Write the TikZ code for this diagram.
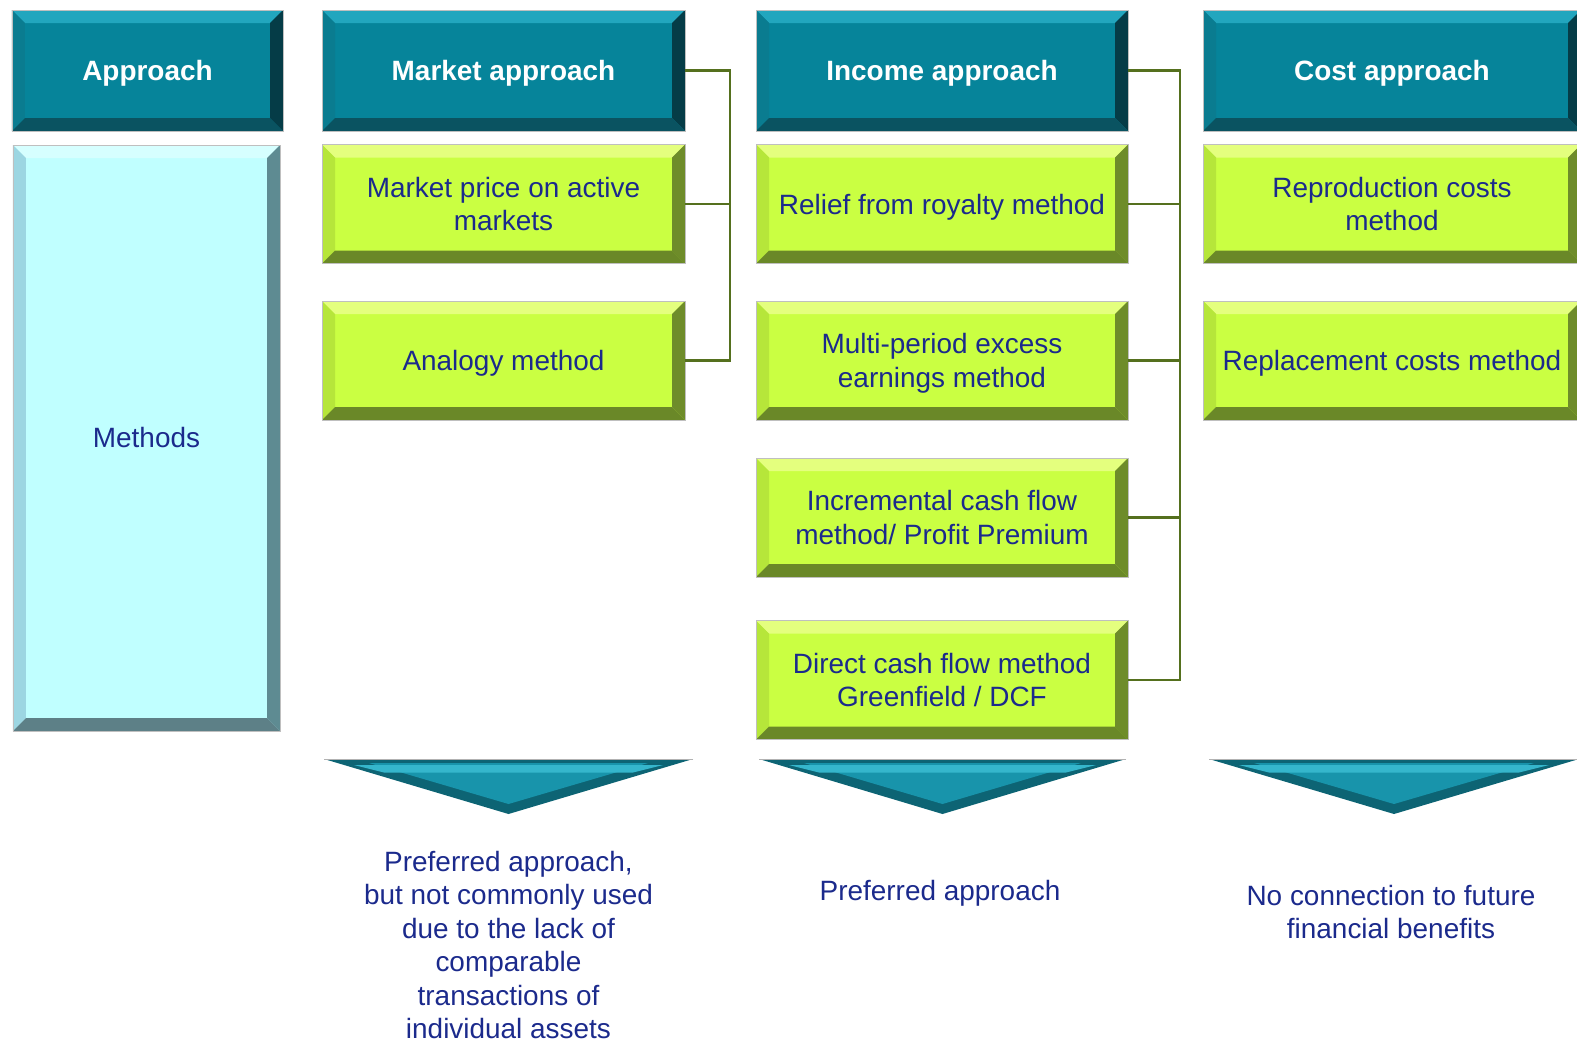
\documentclass[tikz,border=0pt]{standalone}
\usepackage{fontspec}
\setmainfont{Liberation Sans}

\definecolor{hdface}{HTML}{06849A}
\definecolor{hdtop}{HTML}{22A6BE}
\definecolor{hdleft}{HTML}{0A7C90}
\definecolor{hdright}{HTML}{053C47}
\definecolor{hdbot}{HTML}{0A5361}
\definecolor{grface}{HTML}{CAFF42}
\definecolor{grtop}{HTML}{E4FF7E}
\definecolor{grleft}{HTML}{B6E63A}
\definecolor{grright}{HTML}{6E8C2A}
\definecolor{grbot}{HTML}{6A8828}
\definecolor{bluface}{HTML}{C0FFFF}
\definecolor{blutop}{HTML}{D6FFFF}
\definecolor{bluleft}{HTML}{9CD6E2}
\definecolor{bluright}{HTML}{5E8B92}
\definecolor{blubot}{HTML}{5D8087}
\definecolor{navy}{HTML}{1B2A8C}
\definecolor{olive}{HTML}{55701E}
\definecolor{tridark}{HTML}{0D6474}
\definecolor{triface}{HTML}{1894AB}
\definecolor{trilight}{HTML}{35B6CC}

\def\bvl{0.26cm}
\newcommand{\bodyfont}{\fontsize{15.9}{19.1}\selectfont}

\tikzset{
  bevel/.style n args={5}{fill=#1, draw=gray!50, line width=0.4pt,
    path picture={
      \fill[#2] (path picture bounding box.north west) -- (path picture bounding box.north east)
        -- ([shift={(-\bvl,-\bvl)}]path picture bounding box.north east)
        -- ([shift={(\bvl,-\bvl)}]path picture bounding box.north west) -- cycle;
      \fill[#3] (path picture bounding box.north west) -- (path picture bounding box.south west)
        -- ([shift={(\bvl,\bvl)}]path picture bounding box.south west)
        -- ([shift={(\bvl,-\bvl)}]path picture bounding box.north west) -- cycle;
      \fill[#4] (path picture bounding box.north east) -- (path picture bounding box.south east)
        -- ([shift={(-\bvl,\bvl)}]path picture bounding box.south east)
        -- ([shift={(-\bvl,-\bvl)}]path picture bounding box.north east) -- cycle;
      \fill[#5] (path picture bounding box.south west) -- (path picture bounding box.south east)
        -- ([shift={(-\bvl,\bvl)}]path picture bounding box.south east)
        -- ([shift={(\bvl,\bvl)}]path picture bounding box.south west) -- cycle;
    }},
  header/.style={bevel={hdface}{hdtop}{hdleft}{hdright}{hdbot},
    minimum height=2.42cm, inner sep=0pt, text depth=0pt, text=white, font=\bodyfont\bfseries},
  method/.style={bevel={grface}{grtop}{grleft}{grright}{grbot},
    minimum height=2.38cm, inner sep=0pt, text depth=0pt, text=navy, align=center},
  link/.style={olive, line width=1.5pt},
  note/.style={text=navy, align=center},
  arrowtri/.style={fill=tridark}
}

\begin{document}
\begin{tikzpicture}[font=\bodyfont]

    \useasboundingbox (0,0) rectangle (31.54,-20.86);

    % left column
    \node[header, minimum width=5.42cm] (appr) at (2.95,-1.41) {Approach};
    \node[bevel={bluface}{blutop}{bluleft}{bluright}{blubot}, minimum width=5.34cm,
      minimum height=11.72cm, inner sep=0pt, text=navy] (meth) at (2.93,-8.76) {Methods};

    % market approach
    \node[header, minimum width=7.26cm] (mkt) at (10.07,-1.41) {Market approach};
    \node[method, minimum width=7.26cm] (mprice) at (10.07,-4.08) {Market price on active\\markets};
    \node[method, minimum width=7.26cm] (analog) at (10.07,-7.21) {Analogy method};

    % income approach
    \node[header, minimum width=7.44cm] (inc) at (18.84,-1.41) {Income approach};
    \node[method, minimum width=7.44cm] (relief) at (18.84,-4.08) {Relief from royalty method};
    \node[method, minimum width=7.44cm] (mpeem) at (18.84,-7.21) {Multi-period excess\\earnings method};
    \node[method, minimum width=7.44cm] (icf) at (18.84,-10.35) {Incremental cash flow\\method/ Profit Premium};
    \node[method, minimum width=7.44cm] (dcf) at (18.84,-13.6) {Direct cash flow method\\Greenfield / DCF};

    % cost approach
    \node[header, minimum width=7.56cm] (cost) at (27.84,-1.41) {Cost approach};
    \node[method, minimum width=7.56cm] (repro) at (27.84,-4.08) {Reproduction costs\\method};
    \node[method, minimum width=7.56cm] (repl) at (27.84,-7.21) {Replacement costs method};

    % brackets
    \coordinate (mktbus) at (14.6,-1.41);
    \coordinate (incbus) at (23.6,-1.41);

    \draw[link] (mkt.east) -| (mktbus) |- (analog.east);
    \draw[link] (mprice.east) -- (mprice.east -| mktbus);

    \draw[link] (inc.east) -| (incbus) |- (dcf.east);
    \draw[link] (relief.east) -- (relief.east -| incbus);
    \draw[link] (mpeem.east) -- (mpeem.east -| incbus);
    \draw[link] (icf.east) -- (icf.east -| incbus);

    % down triangles
    \foreach \l/\r/\m in {6.48/13.86/10.17, 15.18/22.52/18.85, 24.18/31.58/27.88}{
      \fill[arrowtri] (\l,-15.18) -- (\r,-15.18) -- (\m,-16.28) -- cycle;
      \fill[triface] (\l+0.9,-15.26) -- (\r-0.9,-15.26) -- (\m,-16.08) -- cycle;
      \fill[trilight] (\l+0.6,-15.3) -- (\r-0.6,-15.3) -- (\r-1.2,-15.45) -- (\l+1.2,-15.45) -- cycle;
      \draw[gray!60, line width=0.4pt] (\l,-15.18) -- (\r,-15.18);
    }

    \node[note] (mktnote) at (10.17,-18.9) {Preferred approach,\\but not commonly used\\due to the lack of\\comparable\\transactions of\\individual assets};
    \node[note] (incnote) at (18.8,-17.86) {Preferred approach};
    \node[note] (costnote) at (27.82,-18.24) {No connection to future\\financial benefits};

  \end{tikzpicture}
\end{document}
